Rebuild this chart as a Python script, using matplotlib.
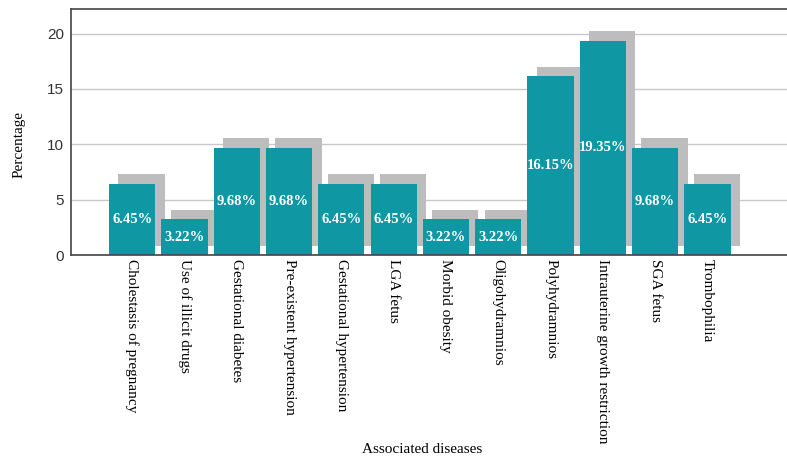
import numpy as np
import matplotlib.pyplot as plt

# disease categories and their share (%)
diseases = ["Cholestasis of pregnancy", "Use of illicit drugs", "Gestational diabetes",
            "Pre-existent hypertension", "Gestational hypertension", "LGA fetus",
            "Morbid obesity", "Oligohydramnios", "Polyhydramnios",
            "Intrauterine growth restriction", "SGA fetus", "Trombophilia"]
percent = [6.45, 3.22, 9.68, 9.68, 6.45, 6.45, 3.22, 3.22, 16.15, 19.35, 9.68, 6.45]
yticks = [0, 5, 10, 15, 20]

serif = ["Liberation Serif", "DejaVu Serif"]
sans = ["Liberation Sans", "DejaVu Sans"]

fig = plt.figure(figsize=(7.87, 4.57), dpi=100)
ax = fig.add_axes([0.0902, 0.442, 0.915, 0.538])

x = np.arange(len(diseases))
w = 0.885

# drop shadow behind every bar
ax.bar(x + 0.18, percent, width=w, bottom=0.85, color="#bdbdbd", zorder=1)
ax.bar(x, percent, width=w, color="#0f98a3", zorder=2)

for xi, v in zip(x, percent):
    ax.text(xi, v / 2, f"{v:.2f}%", ha="center", va="center", color="white",
            fontsize=10.5, fontweight="bold", family=serif, zorder=3)

ax.set_xlim(-1.17, 12.6)
ax.set_ylim(0, 22.2)
ax.set_yticks(yticks)
ax.set_yticklabels([str(t) for t in yticks], family=sans, fontsize=11, color="#333333")
ax.set_xticks(x)
ax.set_xticklabels(diseases, rotation=270, family=serif, fontsize=11, va="top", ha="center")
ax.tick_params(axis="both", length=0)
ax.tick_params(axis="x", pad=3)
ax.tick_params(axis="y", pad=5)

ax.yaxis.grid(True, color="#c8c8c8", linewidth=1)
ax.set_axisbelow(True)
ax.spines["right"].set_visible(False)
for s in ["left", "bottom", "top"]:
    ax.spines[s].set_color("#444444")
    ax.spines[s].set_linewidth(1.2)

fig.text(0.024, 0.683, "Percentage", family=serif, fontsize=11, rotation=90,
         ha="center", va="center")
fig.text(0.537, 0.017, "Associated diseases", family=serif, fontsize=11, ha="center", va="center")

fig.savefig("out.png", dpi=100)
